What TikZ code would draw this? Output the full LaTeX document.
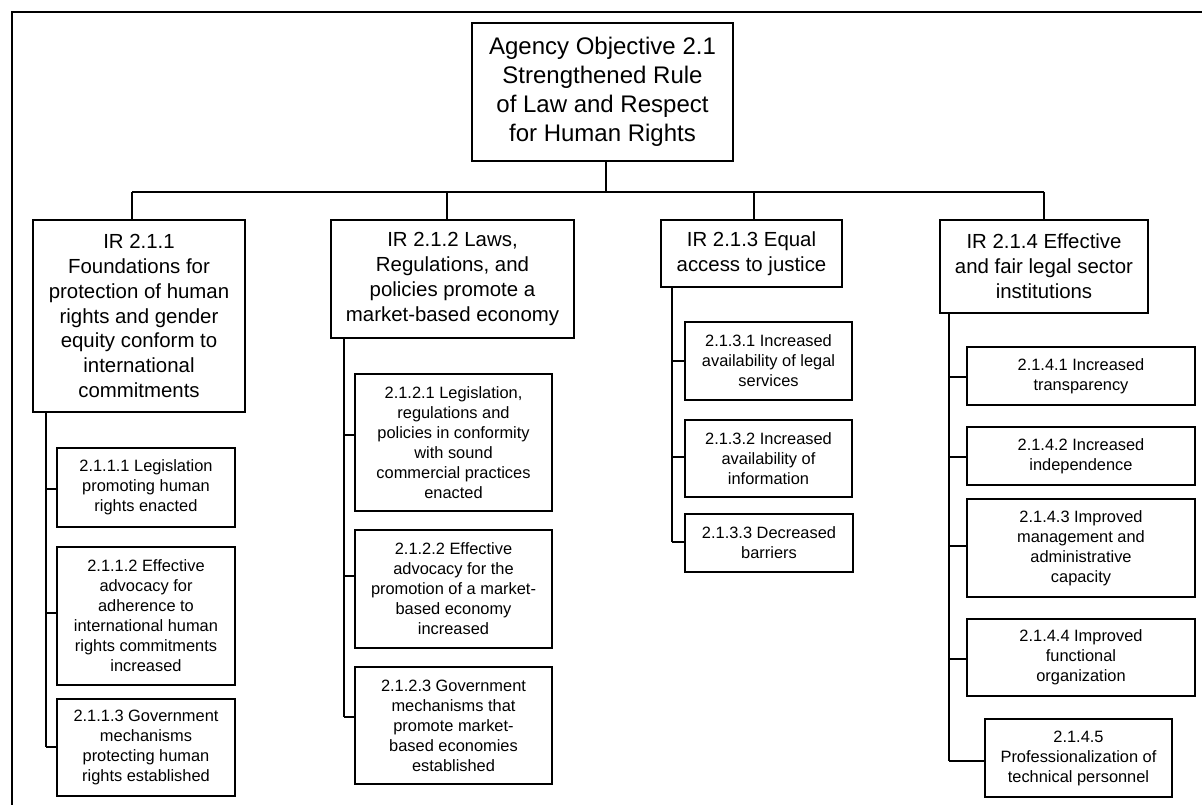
\documentclass[tikz,border=0pt]{standalone}
\usepackage{fontspec}
\setmainfont{Liberation Sans}
\begin{document}
\begin{tikzpicture}[x=1pt,y=-1pt,
  obox/.style={draw, line width=2pt, inner sep=0pt, align=center},
  topbox/.style={obox, font=\fontsize{24}{29}\selectfont},
  irbox/.style={obox, font=\fontsize{20.4}{24.8}\selectfont},
  subbox/.style={obox, font=\fontsize{16.4}{20}\selectfont},
  conn/.style={line width=2pt},
  frame/.style={line width=2pt}]
\useasboundingbox (0,0) rectangle (1202,805);
% helper: place box by corners
\newcommand{\bx}[7]{\node[#1, minimum width={#4-#3}, minimum height={#6-#5}] (#2) at ({(#3+#4)/2},{(#5+#6)/2}) {#7};}
\draw[frame] (12,806) -- (12,12) -- (1203,12);
\bx{topbox}{top}{472}{733}{23}{161}{Agency Objective 2.1\\Strengthened Rule\\of Law and Respect\\for Human Rights}
\bx{irbox}{ir1}{33}{245}{220}{412}{IR 2.1.1\\Foundations for\\protection of human\\rights and gender\\equity conform to\\international\\commitments}
\bx{irbox}{ir2}{331}{574}{220}{338}{IR 2.1.2 Laws,\\Regulations, and\\policies promote a\\market-based economy}
\bx{irbox}{ir3}{661}{842}{220}{287}{IR 2.1.3 Equal\\access to justice}
\bx{irbox}{ir4}{940}{1148}{220}{313}{IR 2.1.4 Effective\\and fair legal sector\\institutions}
\bx{subbox}{s111}{57}{235}{448}{527}{2.1.1.1 Legislation\\promoting human\\rights enacted}
\bx{subbox}{s112}{57}{235}{547}{685}{2.1.1.2 Effective\\advocacy for\\adherence to\\international human\\rights commitments\\increased}
\bx{subbox}{s113}{57}{235}{699}{796}{2.1.1.3 Government\\mechanisms\\protecting human\\rights established}
\bx{subbox}{s121}{355}{552}{374}{511}{2.1.2.1 Legislation,\\regulations and\\policies in conformity\\with sound\\commercial practices\\enacted}
\bx{subbox}{s122}{355}{552}{530}{648}{2.1.2.2 Effective\\advocacy for the\\promotion of a market-\\based economy\\increased}
\bx{subbox}{s123}{355}{552}{667}{784}{2.1.2.3 Government\\mechanisms that\\promote market-\\based economies\\established}
\bx{subbox}{s131}{685}{852}{322}{400}{2.1.3.1 Increased\\availability of legal\\services}
\bx{subbox}{s132}{685}{852}{420}{497}{2.1.3.2 Increased\\availability of\\information}
\bx{subbox}{s133}{685}{853}{514}{572}{2.1.3.3 Decreased\\barriers}
\bx{subbox}{s141}{967}{1195}{347}{405}{2.1.4.1 Increased\\transparency}
\bx{subbox}{s142}{967}{1195}{427}{485}{2.1.4.2 Increased\\independence}
\bx{subbox}{s143}{967}{1195}{499}{597}{2.1.4.3 Improved\\management and\\administrative\\capacity}
\bx{subbox}{s144}{967}{1195}{619}{696}{2.1.4.4 Improved\\functional\\organization}
\bx{subbox}{s145}{985}{1172}{719}{797}{2.1.4.5\\Professionalization of\\technical personnel}
% top-level connectors
\coordinate (jt) at (606,192);
\coordinate (j1) at (132,192);
\coordinate (j2) at (447,192);
\coordinate (j3) at (754,192);
\coordinate (j4) at (1044,192);
\draw[conn] (top.south -| jt) -- (jt);
\draw[conn] (j1) -- (j4);
\draw[conn] (j1) -- (j1 |- ir1.north);
\draw[conn] (j2) -- (j2 |- ir2.north);
\draw[conn] (j3) -- (j3 |- ir3.north);
\draw[conn] (j4) -- (j4 |- ir4.north);
% branch 1
\coordinate (t111) at (45.6,488.6);
\coordinate (t112) at (45.6,613);
\coordinate (t113) at (45.6,746.7);
\draw[conn] (ir1.south -| t111) -- (t113);
\foreach \t/\s in {t111/s111,t112/s112,t113/s113} \draw[conn] (\t) -- (\t -| \s.west);
% branch 2
\coordinate (t121) at (343.6,435);
\coordinate (t122) at (343.6,576);
\coordinate (t123) at (343.6,717);
\draw[conn] (ir2.south -| t121) -- (t123);
\foreach \t/\s in {t121/s121,t122/s122,t123/s123} \draw[conn] (\t) -- (\t -| \s.west);
% branch 3
\coordinate (t131) at (672,361);
\coordinate (t132) at (672,457);
\coordinate (t133) at (672,542);
\draw[conn] (ir3.south -| t131) -- (t133);
\foreach \t/\s in {t131/s131,t132/s132,t133/s133} \draw[conn] (\t) -- (\t -| \s.west);
% branch 4
\coordinate (t141) at (949,377);
\coordinate (t142) at (949,457);
\coordinate (t143) at (949,546);
\coordinate (t144) at (949,659);
\coordinate (t145) at (949,761);
\draw[conn] (ir4.south -| t141) -- (t145);
\foreach \t/\s in {t141/s141,t142/s142,t143/s143,t144/s144,t145/s145} \draw[conn] (\t) -- (\t -| \s.west);
\end{tikzpicture}
\end{document}
